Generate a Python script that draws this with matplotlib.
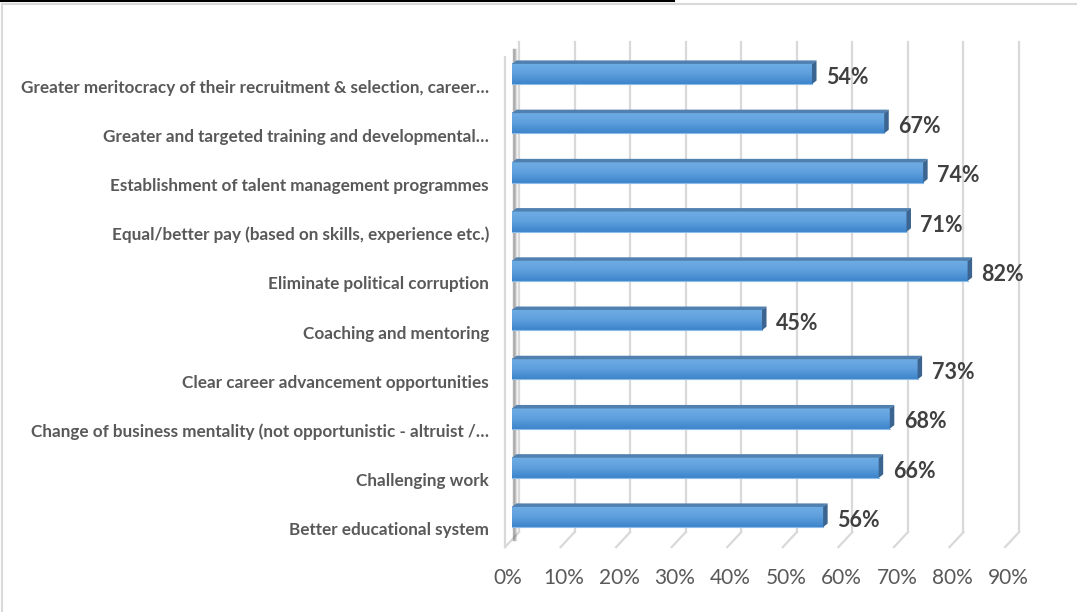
import numpy as np
import matplotlib
matplotlib.use("Agg")
import matplotlib.pyplot as plt
from matplotlib.patches import Polygon
from matplotlib.lines import Line2D
from matplotlib.transforms import ScaledTranslation

plt.rcParams['font.family'] = ['Lato', 'DejaVu Sans']

# categories listed bottom to top
categories = [
    "Better educational system",
    "Challenging work",
    "Change of business mentality (not opportunistic - altruist /\u2026",
    "Clear career advancement opportunities",
    "Coaching and mentoring",
    "Eliminate political corruption",
    "Equal/better pay (based on skills, experience etc.)",
    "Establishment of talent management programmes",
    "Greater and targeted training and developmental\u2026",
    "Greater meritocracy of their recruitment & selection, career\u2026",
]
values = [56, 66, 68, 73, 45, 82, 71, 74, 67, 54]
ticks = [0, 10, 20, 30, 40, 50, 60, 70, 80, 90]

W, H, DPI = 1077, 612, 100
fig = plt.figure(figsize=(W / DPI, H / DPI), dpi=DPI)

# plot area in pixels: x=0 at 512, 90% at 1012; category centres 517 .. 74
x0_px, px_per_pct = 512, 5.556
cat_step = 49.2
ybot_px = 517 + cat_step / 2
ytop_px = 74 - cat_step / 2
ax = fig.add_axes([x0_px / W, 1 - ybot_px / H,
                   90 * px_per_pct / W, (ybot_px - ytop_px) / H])
ax.set_xlim(0, 90)
ax.set_ylim(-0.5, len(categories) - 0.5)
for s in ax.spines.values():
    s.set_visible(False)

# 3-D depth offsets (data units)
dx = 7 / px_per_pct
dy = 7.5 / cat_step
floor = -0.46
wall_top = len(categories) - 0.5 + 7.5 / cat_step
grid_col = "#d9d9d9"

# back wall gridlines and floor diagonals
for t in ticks:
    ax.plot([t + dx, t + dx], [floor + dy, wall_top], color=grid_col,
            lw=1.6, clip_on=False, zorder=1)
    ax.plot([t + dx, t - dx], [floor + dy, floor - dy], color=grid_col,
            lw=1.6, clip_on=False, zorder=1)

# side wall edge and its soft shading
ax.plot([-dx, -dx], [floor - dy, wall_top - 2 * dy], color=grid_col,
        lw=1.6, clip_on=False, zorder=1)
for off, a in [(0.0, 0.4), (0.15, 0.28), (-0.15, 0.28), (0.3, 0.14), (-0.3, 0.14)]:
    ax.plot([0.4 + off, 0.4 + off], [floor, wall_top - dy], color="#505050",
            lw=1.0, alpha=a, clip_on=False, zorder=1.5)

# bars with a front gradient, top face and end face
bh = 0.205
bdx = 4.5 / px_per_pct
bdy = 3.5 / cat_step
grad = np.linspace(0, 1, 64).reshape(-1, 1)
cmap = matplotlib.colors.LinearSegmentedColormap.from_list(
    "barfront", ["#3d84cb", "#5e9fdd", "#70ade5"])
for i, v in enumerate(values):
    lo, hi = i - bh, i + bh
    ax.imshow(grad, extent=(0, v, lo, hi), origin="lower", cmap=cmap,
              aspect="auto", zorder=3, interpolation="bilinear")
    ax.add_patch(Polygon([(0, hi), (v, hi), (v + bdx, hi + bdy), (bdx, hi + bdy)],
                         closed=True, fc="#5080b0", ec="none", zorder=3))
    ax.add_patch(Polygon([(v, lo), (v, hi), (v + bdx, hi + bdy), (v + bdx, lo + bdy)],
                         closed=True, fc="#3b6590", ec="none", zorder=3))
    ax.plot([0, v], [lo, lo], color="#8cbbe8", lw=0.8, zorder=3.5)
    ax.text(v + bdx + 1.7, i - 0.07, f"{v}%", ha="left", va="center",
            fontsize=15.5, fontweight="bold", color="#404040", zorder=4)

# category labels sit a little below their bars
ax.set_yticks(range(len(categories)))
ax.set_yticklabels(categories, fontsize=12.3, fontweight="bold", color="#595959")
ax.tick_params(axis="y", length=0, pad=16.5)
down = ScaledTranslation(0, -12 / DPI, fig.dpi_scale_trans)
for lab in ax.get_yticklabels():
    lab.set_transform(lab.get_transform() + down)

ax.set_xticks(ticks)
ax.set_xticklabels([f"{t}%" for t in ticks], fontsize=15, color="#595959")
ax.tick_params(axis="x", length=0, pad=19)
shift = ScaledTranslation(-4 / DPI, 0, fig.dpi_scale_trans)
for lab in ax.get_xticklabels():
    lab.set_transform(lab.get_transform() + shift)

# chart frame and the underline running along the top edge
fig.add_artist(Line2D([2 / W, 2 / W], [0, 1 - 4 / H], color="#d9d9d9", lw=1.5))
fig.add_artist(Line2D([2 / W, 1], [1 - 4 / H, 1 - 4 / H], color="#d9d9d9", lw=1.5))
fig.add_artist(Line2D([0, 674 / W], [1 - 0.5 / H, 1 - 0.5 / H], color="black", lw=1.5))

fig.savefig("out.png", dpi=DPI)
